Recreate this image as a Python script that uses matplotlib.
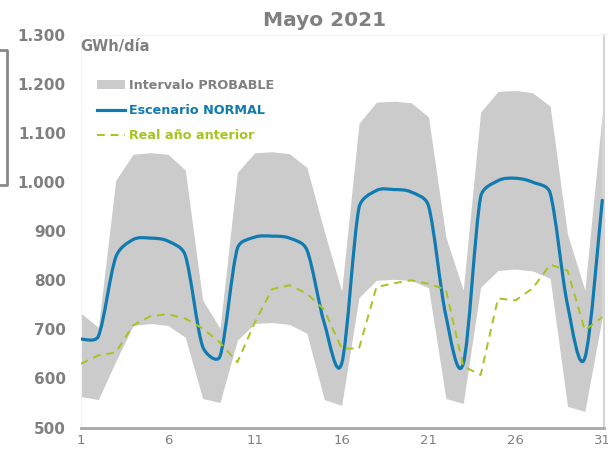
import math
import matplotlib.pyplot as plt
from matplotlib.path import Path
from matplotlib.patches import PathPatch, Patch
from matplotlib.lines import Line2D
from matplotlib.ticker import FuncFormatter

# Days of May 2021
days = list(range(1, 32))

# Probable interval (GWh/dia)
band_high = [733, 704, 1004, 1057, 1060, 1057, 1025, 760, 702, 1020,
             1060, 1062, 1058, 1030, 900, 778, 1120, 1163, 1165, 1162,
             1133, 888, 780, 1143, 1185, 1187, 1182, 1155, 894, 780, 1141]
band_low = [563, 557, 635, 708, 712, 708, 684, 559, 551, 678,
            712, 714, 710, 692, 557, 545, 765, 800, 802, 800,
            785, 559, 549, 786, 820, 823, 819, 804, 543, 533, 725]

# Normal scenario
normal = [680, 686, 847, 883, 886, 880, 851, 665, 645, 865,
          888, 890, 886, 862, 713, 630, 948, 983, 985, 980,
          952, 728, 630, 970, 1003, 1008, 1000, 978, 750, 642, 963]

# Previous year real
real_prev = [630, 647, 653, 708, 727, 731, 722, 702, 673, 633,
             714, 782, 790, 773, 740, 661, 661, 786, 794, 800,
             793, 781, 625, 607, 763, 759, 784, 832, 820, 698, 725]

x_ticks = [1, 6, 11, 16, 21, 26, 31]
y_ticks = [500, 600, 700, 800, 900, 1000, 1100, 1200, 1300]

gray_txt = "#808080"
band_col = "#cbcbcb"
blue = "#0f7bb0"
green = "#a6c41e"


def smooth_path(ax, xs, ys, cap=0.42):
    # smoothed line: Catmull-Rom handles worked out on screen, each one
    # capped by the length of its segment so the plateaus don't overshoot
    to_disp = ax.transData
    pts = [tuple(to_disp.transform((x, y))) for x, y in zip(xs, ys)]
    n = len(pts)

    def tangent(i):
        a = pts[max(i - 1, 0)]
        b = pts[min(i + 1, n - 1)]
        return b[0] - a[0], b[1] - a[1]

    def handle(i, seg_len):
        tx, ty = tangent(i)
        L = math.hypot(tx, ty)
        h = min(L / 6, cap * seg_len)
        return tx / L * h, ty / L * h

    verts = [pts[0]]
    codes = [Path.MOVETO]
    for i in range(n - 1):
        d = math.dist(pts[i], pts[i + 1])
        h1 = handle(i, d)
        h2 = handle(i + 1, d)
        verts += [(pts[i][0] + h1[0], pts[i][1] + h1[1]),
                  (pts[i + 1][0] - h2[0], pts[i + 1][1] - h2[1]),
                  pts[i + 1]]
        codes += [Path.CURVE4] * 3
    inv = ax.transData.inverted()
    return Path([tuple(inv.transform(v)) for v in verts], codes)


fig = plt.figure(figsize=(6.08, 4.5), dpi=100)
ax = fig.add_axes([81 / 608, 22.5 / 450, 523 / 608, 392.5 / 450])
ax.set_xlim(1, 31.1)
ax.set_ylim(500, 1300)

ax.fill_between(days, band_low, band_high, color=band_col, lw=0, zorder=1)
ax.add_patch(PathPatch(smooth_path(ax, days, normal), fill=False,
                       edgecolor=blue, lw=2.3, zorder=3, capstyle="round"))
ax.plot(days, real_prev, color=green, lw=1.4, dashes=(4, 3), zorder=4)

ax.set_xticks(x_ticks)
ax.set_yticks(y_ticks)
ax.yaxis.set_major_formatter(FuncFormatter(lambda v, p: f"{int(v):,}".replace(",", ".")))
ax.tick_params(length=0)
ax.tick_params(axis="y", pad=11, labelsize=11, labelcolor=gray_txt)
ax.tick_params(axis="x", pad=5, labelsize=9.5, labelcolor=gray_txt)
for lab in ax.get_yticklabels():
    lab.set_fontweight("bold")

ax.spines["bottom"].set_color("#a8a8a8")
ax.spines["bottom"].set_linewidth(2)
ax.spines["right"].set_color("#d4d4d4")
ax.spines["right"].set_linewidth(1.5)
ax.spines["left"].set_color("#f2f2f2")
ax.spines["top"].set_color("#f2f2f2")

fig.text(325 / 608, 1 - 20 / 450, "Mayo 2021", ha="center", va="center",
         fontsize=14.5, fontweight="bold", color=gray_txt)
fig.text(80 / 608, 1 - 46 / 450, "GWh/día", ha="left", va="center",
         fontsize=10.5, fontweight="bold", color=gray_txt)

handles = [Patch(facecolor=band_col, edgecolor="none"),
           Line2D([], [], color=blue, lw=2.3),
           Line2D([], [], color=green, lw=1.4, dashes=(4, 3))]
labels = ["Intervalo PROBABLE", "Escenario NORMAL", "Real año anterior"]
fig.legend(handles, labels, loc="upper left",
           bbox_to_anchor=(97 / 608, 1 - 79 / 450), frameon=False,
           borderpad=0, borderaxespad=0, handlelength=2.2, handleheight=0.6,
           handletextpad=0.3, labelspacing=0.95,
           prop={"size": 9.2, "weight": "bold"},
           labelcolor=[gray_txt, blue, green])

# bracket remnant on the left edge
fig.add_artist(Line2D([0, 7 / 608, 7 / 608, 0],
                      [1 - 50 / 450, 1 - 50 / 450, 1 - 185 / 450, 1 - 185 / 450],
                      color="#888888", lw=2, transform=fig.transFigure))

fig.savefig("out.png", dpi=100)
